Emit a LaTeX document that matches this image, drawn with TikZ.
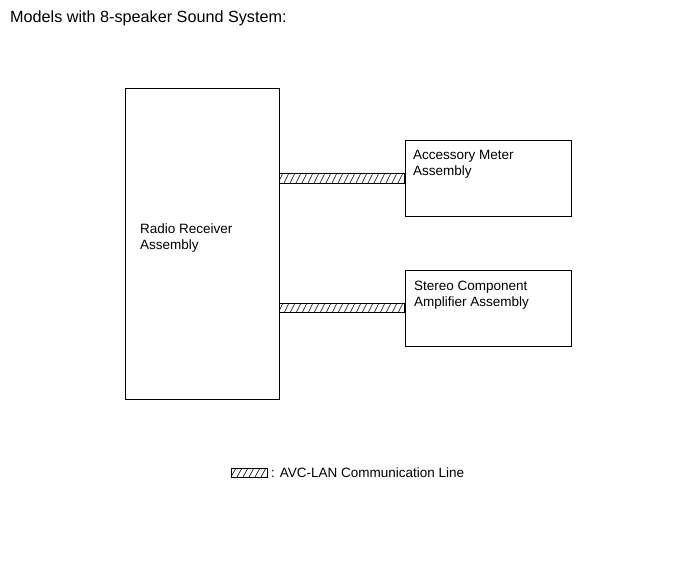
\documentclass[tikz,border=0pt]{standalone}
\usepackage{fontspec}
\setmainfont{Liberation Sans}
\usetikzlibrary{calc}
\begin{document}
\begin{tikzpicture}[x=1pt,y=-1pt,
  box/.style={draw,line width=0.8pt,inner sep=0pt},
  lbl/.style={anchor=north west,inner sep=0pt,font=\fontsize{13.5}{16}\selectfont,align=left},
  hatch/.style={line width=0.6pt}]
\useasboundingbox (0,0) rectangle (690,562);
\node[anchor=west,inner sep=0pt,font=\fontsize{16.2}{18}\selectfont] (title) at (10,18) {Models with 8-speaker Sound System:};
\node[box,minimum width=154pt,minimum height=311pt] (radio) at (202,243.5) {};
\node[box,minimum width=166pt,minimum height=76pt] (acc) at (488,178) {};
\node[box,minimum width=166pt,minimum height=76pt] (amp) at (488,308) {};
\node[lbl] (radiot) at (140,224) {Radio Receiver\\Assembly};
\node[lbl] (acct) at (413,150.5) {Accessory Meter\\Assembly};
\node[lbl] (ampt) at (414,280.5) {Stereo Component\\Amplifier Assembly};
% band 1
\coordinate (b1a) at ($(radio.east|-acc.west)+(0,-5)$);
\coordinate (b1b) at ($(acc.west)+(0,5)$);
\begin{scope}
\clip (b1a) rectangle (b1b);
\foreach \x in {272,278,...,412} \draw[hatch] (\x,183) -- (\x+5,173);
\end{scope}
\draw[line width=0.8pt] (b1a) rectangle (b1b);
% band 2
\coordinate (b2a) at ($(radio.east|-amp.west)+(0,-4.5)$);
\coordinate (b2b) at ($(amp.west)+(0,4.5)$);
\begin{scope}
\clip (b2a) rectangle (b2b);
\foreach \x in {272,278,...,412} \draw[hatch] (\x,313) -- (\x+5,303);
\end{scope}
\draw[line width=0.8pt] (b2a) rectangle (b2b);
% legend
\coordinate (la) at (231,468);
\coordinate (lb) at (267,477);
\begin{scope}
\clip (la) rectangle (lb);
\foreach \x in {225,231,...,273} \draw[hatch] (\x,477) -- (\x+5,468);
\end{scope}
\draw[line width=0.8pt] (la) rectangle (lb);
\node[anchor=west,inner sep=0pt,font=\fontsize{13.5}{16}\selectfont] (legt) at (271,472.5) {: AVC-LAN Communication Line};
\end{tikzpicture}
\end{document}
